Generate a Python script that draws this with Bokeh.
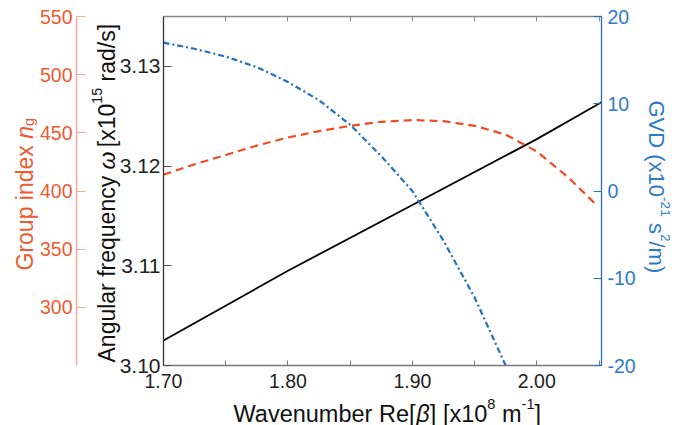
import math
from bokeh.plotting import figure
from bokeh.models import LinearAxis, Range1d, FixedTicker, Label, NumeralTickFormatter
from bokeh.embed import file_html
from bokeh.resources import INLINE

# ---------------- data ----------------
x_lim = (1.70, 2.052)
omega_lim = (3.10, 3.135)
ng_lim = (250, 550)
gvd_lim = (-20, 20)

x_major_ticks = [1.70, 1.80, 1.90, 2.00]
x_minor_ticks = [1.75, 1.85, 1.95, 2.05]
omega_ticks = [3.10, 3.11, 3.12, 3.13]
ng_ticks = [300, 350, 400, 450, 500, 550]
gvd_ticks = [-20, -10, 0, 10, 20]

beta_omega = [1.70, 1.80, 1.90, 2.00, 2.052]
omega = [3.1025, 3.1095, 3.1161, 3.1227, 3.1264]

beta_ng = [1.70, 1.725, 1.75, 1.775, 1.80, 1.825, 1.85, 1.875, 1.90, 1.925,
           1.95, 1.975, 2.00, 2.025, 2.047]
ng = [414, 423, 431, 439, 446, 451.5, 456, 459.5, 461, 460,
      456, 448.5, 434, 412, 389]

beta_gvd = [1.70, 1.725, 1.75, 1.775, 1.80, 1.825, 1.85, 1.875, 1.90, 1.925,
            1.95, 1.975]
gvd = [17.0, 16.3, 15.4, 14.2, 12.5, 10.4, 7.6, 4.0, 0.0, -5.7, -12.2, -20.0]

# ---------------- layout (pixels of the data box inside the canvas) ----------------
CW, CH = 675, 425
BOX_L, BOX_R, BOX_T, BOX_B = 163, 601, 16, 365
NG_AXIS_X = 76


def h_range(lo, hi):
    s = (hi - lo) / (BOX_R - BOX_L)
    return lo - BOX_L * s, hi + (CW - BOX_R) * s


def v_range(lo, hi):
    s = (hi - lo) / (BOX_B - BOX_T)
    return lo - (CH - BOX_B) * s, hi + BOX_T * s


xr = h_range(*x_lim)
yr = v_range(*omega_lim)
ngr = v_range(*ng_lim)
gvr = v_range(*gvd_lim)
ng_axis_loc = x_lim[0] + (NG_AXIS_X - BOX_L) * (x_lim[1] - x_lim[0]) / (BOX_R - BOX_L)

# ---------------- styles ----------------
FONT = "Liberation Sans"
ORANGE = "#f04a22"
ORANGE_TXT = "#f05a30"
ORANGE_AXIS = "#f7a898"
BLUE = "#1f72c2"
BLUE_TXT = "#2b7bc9"
TICK_FS = "19.5px"
TITLE_FS = 23

p = figure(width=CW, height=CH, output_backend="svg", toolbar_location=None,
           x_range=Range1d(*xr), y_range=Range1d(*yr),
           min_border_left=0, min_border_right=0, min_border_top=0,
           min_border_bottom=0)
p.extra_y_ranges = {"ng": Range1d(*ngr), "gvd": Range1d(*gvr)}
p.grid.visible = False
p.outline_line_color = None
p.background_fill_color = "white"
p.border_fill_color = "white"

# bottom axis
xa = p.xaxis[0]
xa.fixed_location = omega_lim[0]
xa.bounds = x_lim
xa.ticker = FixedTicker(ticks=x_major_ticks, minor_ticks=x_minor_ticks)
xa.formatter = NumeralTickFormatter(format="0.00")
xa.major_tick_in = 5
xa.major_tick_out = 0
xa.minor_tick_in = 5
xa.minor_tick_out = 0
xa.axis_line_color = "#7a7a7a"
xa.major_tick_line_color = "#7a7a7a"
xa.minor_tick_line_color = "#7a7a7a"
xa.axis_line_width = 1.3
xa.major_label_text_font = FONT
xa.major_label_text_font_size = TICK_FS
xa.major_label_text_color = "#222222"
xa.major_label_standoff = 8

# top axis (ticks only, no labels)
ta = LinearAxis(ticker=FixedTicker(ticks=[], minor_ticks=x_major_ticks + x_minor_ticks),
                fixed_location=omega_lim[1], bounds=x_lim,
                major_tick_in=5, major_tick_out=0, minor_tick_in=5, minor_tick_out=0,
                axis_line_color="#8a8a8a", major_tick_line_color="#8a8a8a",
                minor_tick_line_color="#8a8a8a", axis_line_width=1.3)
p.add_layout(ta, "above")

# left omega axis
ya = p.yaxis[0]
ya.fixed_location = x_lim[0]
ya.bounds = omega_lim
ya.ticker = FixedTicker(ticks=omega_ticks, minor_ticks=[])
ya.formatter = NumeralTickFormatter(format="0.00")
ya.major_tick_in = 8
ya.major_tick_out = 0
ya.axis_line_color = "#333333"
ya.major_tick_line_color = "#555555"
ya.axis_line_width = 1.3
ya.major_label_text_font = FONT
ya.major_label_text_font_size = "21px"
ya.major_label_text_color = "#222222"
ya.major_label_standoff = 3

# far-left group index axis
na = LinearAxis(y_range_name="ng", fixed_location=ng_axis_loc, bounds=ng_lim,
                ticker=FixedTicker(ticks=ng_ticks, minor_ticks=[]),
                major_tick_in=9, major_tick_out=0, axis_line_color=ORANGE_AXIS,
                major_tick_line_color=ORANGE_AXIS, axis_line_width=1.5,
                major_label_text_font=FONT, major_label_text_font_size=TICK_FS,
                major_label_text_color=ORANGE_TXT, major_label_standoff=4)
p.add_layout(na, "left")

# right GVD axis
ga = LinearAxis(y_range_name="gvd", fixed_location=x_lim[1], bounds=gvd_lim,
                ticker=FixedTicker(ticks=gvd_ticks, minor_ticks=[]),
                formatter=NumeralTickFormatter(format="0"),
                major_tick_in=8, major_tick_out=0, axis_line_color=BLUE,
                major_tick_line_color=BLUE, axis_line_width=1.3,
                major_label_text_font=FONT, major_label_text_font_size=TICK_FS,
                major_label_text_color=BLUE_TXT, major_label_standoff=6)
p.add_layout(ga, "right")

# ---------------- curves ----------------
p.line(beta_omega, omega, line_color="black", line_width=1.8)
p.line(beta_ng, ng, y_range_name="ng", line_color=ORANGE, line_width=2.2,
       line_dash="8 5")
p.line(beta_gvd, gvd, y_range_name="gvd", line_color=BLUE, line_width=2.2,
       line_dash="6 3 2 3")

# ---------------- titles with italic / super / subscripts ----------------
W = {' ': 278, '(': 333, ')': 333, '[': 278, ']': 278, '/': 278, '-': 333, '.': 278,
     'A': 667, 'D': 722, 'G': 778, 'R': 722, 'V': 667, 'W': 944,
     'a': 556, 'b': 556, 'c': 500, 'd': 556, 'e': 556, 'f': 278, 'g': 556, 'i': 222,
     'l': 222, 'm': 833, 'n': 556, 'o': 556, 'p': 556, 'q': 556, 'r': 333, 's': 500,
     't': 278, 'u': 556, 'v': 500, 'x': 500, 'y': 500, 'β': 575, 'ω': 690}


def tw(s, fs):
    return sum(W.get(c, 556) for c in s) * fs / 1000.0


def title(runs, x0, y0, size, color, direction):
    """Lay out text runs in canvas pixels (y downward)."""
    pos = 0.0
    for text, style in runs:
        fs = size * 0.62 if style in ("sup", "sub") else size
        shift = 0.42 * size if style == "sup" else (-0.2 * size if style == "sub" else 0)
        lead = len(text) - len(text.lstrip(" "))
        off = pos + tw(text[:lead], fs)
        if direction == "h":
            x, y, ang = x0 + off, y0 - shift, 0
        elif direction == "up":
            x, y, ang = x0 - shift, y0 - off, math.pi / 2
        else:
            x, y, ang = x0 + shift, y0 + off, -math.pi / 2
        if text.strip():
            p.add_layout(Label(x=x, y=y, x_units="canvas", y_units="canvas",
                               text=text.strip(), angle=ang, text_font=FONT,
                               text_font_size=f"{fs:.1f}px",
                               text_font_style="italic" if style == "i" else "normal",
                               text_color=color, text_align="left",
                               text_baseline="alphabetic"))
        pos += tw(text, fs)


title([("Wavenumber Re[", "n"), ("β", "i"), ("] [x10", "n"), ("8", "sup"),
       (" m", "n"), ("-1", "sup"), ("]", "n")], 233, 413, 23.5, "#111111", "h")
title([("Angular frequency ", "n"), ("ω", "i"), (" [x10", "n"), ("15", "sup"),
       (" rad/s]", "n")], 106, 362, TITLE_FS, "#111111", "up")
title([("Group index ", "n"), ("n", "i"), ("g", "sub")], 24, 270, TITLE_FS,
      ORANGE_TXT, "up")
title([("GVD (x10", "n"), ("-21", "sup"), (" s", "n"), ("2", "sup"), ("/m)", "n")],
      656, 100, 22, BLUE_TXT, "down")

open("out.html", "w").write(file_html(p, INLINE))
